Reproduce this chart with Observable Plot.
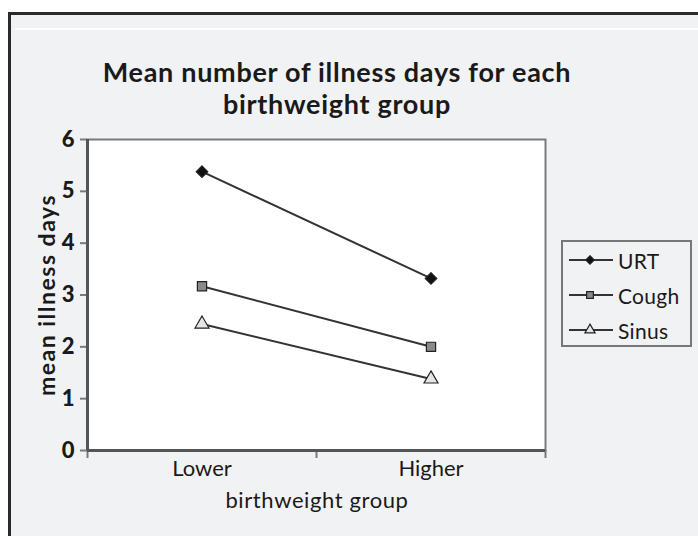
<!DOCTYPE html>
<html>
<head>
<meta charset="utf-8">
<script src="https://cdn.jsdelivr.net/npm/d3@7"></script>
<script src="https://cdn.jsdelivr.net/npm/@observablehq/plot@0.6"></script>
<style>
  html, body { margin: 0; padding: 0; background: #ffffff; }
  #wrap { position: relative; width: 698px; height: 536px; overflow: hidden; font-family: Lato, "Noto Sans", sans-serif; color: #1a1a1a; }
  #panel { position: absolute; left: 8px; top: 12px; width: 720px; height: 560px; background: #f1f2f4; border-left: 3px solid #2a2a2a; border-top: 3px solid #2a2a2a; }
  #whiteline { position: absolute; left: 15px; top: 28px; width: 700px; height: 2px; background: #ffffff; }
  #title { position: absolute; left: 0; top: 56px; width: 674px; text-align: center; font-weight: bold; font-size: 27px; line-height: 32px; letter-spacing: 0.7px; }
  #chart { position: absolute; left: 0; top: 0; }
  #ylabel { position: absolute; left: 46px; top: 295px; transform: translate(-50%, -50%) rotate(-90deg); font-weight: bold; font-size: 23px; letter-spacing: 1.5px; white-space: nowrap; }
  #xlabel { position: absolute; left: 317px; top: 486px; transform: translateX(-50%); font-size: 22px; letter-spacing: 0.6px; white-space: nowrap; }
  #legend { position: absolute; left: 561px; top: 240px; width: 127px; height: 103px; border: 2px solid #777; }
  .item { position: absolute; left: 5px; height: 30px; display: flex; align-items: center; font-size: 21px; letter-spacing: 0.3px; }
  .item svg { margin-right: 4px; }
</style>
</head>
<body>
<div id="wrap">
  <div id="panel"></div>
  <div id="whiteline"></div>
  <div id="title">Mean number of illness days for each<br>birthweight group</div>
  <div id="chart"></div>
  <div id="ylabel">mean illness days</div>
  <div id="xlabel">birthweight group</div>
  <div id="legend"></div>
</div>
<script>
const groups = ["Lower", "Higher"];
const series = ["URT", "Cough", "Sinus"];
const urt = [5.38, 3.32];
const cough = [3.17, 2.0];
const sinus = [2.44, 1.38];
const yTicks = [0, 1, 2, 3, 4, 5, 6];

const seriesValues = [urt, cough, sinus];
const symbols = ["diamond2", "square", "triangle"];
const fills = ["#111111", "#8a8a8a", "#e6e6e6"];

const data = [];
series.forEach((s, si) => {
  groups.forEach((g, gi) => {
    data.push({series: s, group: g, gi: gi + 0.5, value: seriesValues[si][gi]});
  });
});

const plot = Plot.plot({
  width: 560,
  height: 536,
  marginLeft: 87,
  marginRight: 15,
  marginTop: 139,
  marginBottom: 86,
  style: {background: "transparent", fontFamily: "Lato, 'Noto Sans', sans-serif", fontSize: "22px", color: "#1a1a1a"},
  x: {domain: [0, groups.length], axis: null},
  y: {domain: [0, 6], axis: null},
  symbol: {domain: series, range: symbols},
  color: {domain: series, range: fills},
  marks: [
    Plot.frame({fill: "#ffffff", stroke: "#7a7a7a", strokeWidth: 2}),
    Plot.axisY({ticks: yTicks, tickSize: 7, tickPadding: 6, tickFormat: d3.format("d"), stroke: "#7a7a7a", strokeWidth: 2, fontWeight: "900", fontSize: 22, label: null}),
    Plot.axisX({ticks: d3.range(groups.length + 1), tickSize: 8, tickFormat: () => "", stroke: "#7a7a7a", strokeWidth: 2, label: null}),
    Plot.axisX({ticks: groups.map((g, i) => i + 0.5), tickSize: 0, tickPadding: 10, tickFormat: d => groups[Math.floor(d)], label: null}),
    Plot.ruleX([0], {stroke: "#555", strokeWidth: 3}),
    Plot.ruleY([0], {stroke: "#555", strokeWidth: 3}),
    Plot.line(data, {x: "gi", y: "value", z: "series", stroke: "#333", strokeWidth: 2}),
    Plot.dot(data, {x: "gi", y: "value", symbol: "series", fill: "series", stroke: "#222", strokeWidth: 1.2, r: 5.2})
  ]
});
document.getElementById("chart").appendChild(plot);

// legend
const legend = d3.select("#legend");
const legendSymbols = [d3.symbolDiamond2, d3.symbolSquare, d3.symbolTriangle];
series.forEach((s, i) => {
  const item = legend.append("div").attr("class", "item").style("top", (3 + i * 35) + "px");
  const svg = item.append("svg").attr("width", 46).attr("height", 20);
  svg.append("line").attr("x1", 1).attr("x2", 45).attr("y1", 10).attr("y2", 10).attr("stroke", "#333").attr("stroke-width", 2);
  const sym = d3.symbol().type(legendSymbols[i]).size(45);
  svg.append("path").attr("d", sym()).attr("transform", "translate(22,10)").attr("fill", fills[i]).attr("stroke", "#222").attr("stroke-width", 1.2);
  item.append("span").text(s);
});
</script>
</body>
</html>
